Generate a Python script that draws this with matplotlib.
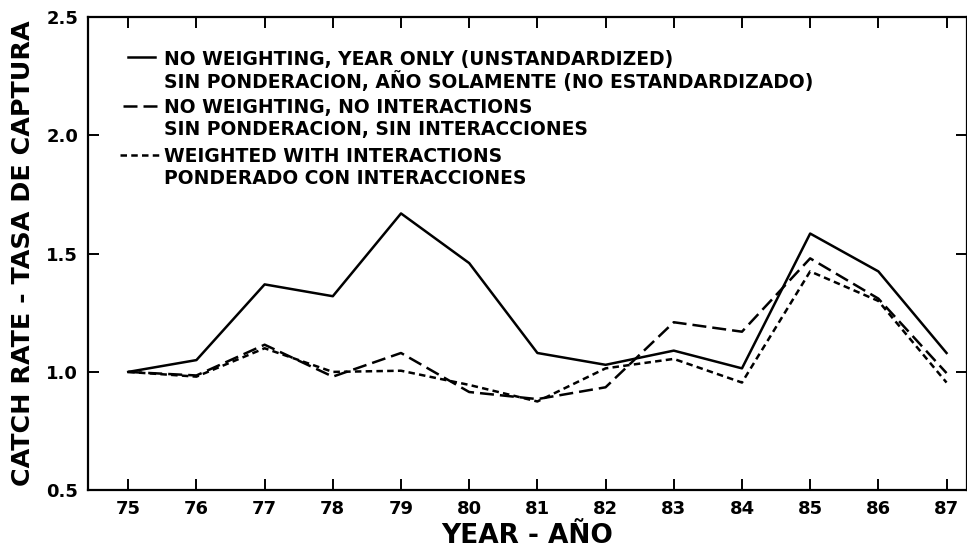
import matplotlib
matplotlib.use("Agg")
import matplotlib.pyplot as plt

# catch rate indices by year
years = [75, 76, 77, 78, 79, 80, 81, 82, 83, 84, 85, 86, 87]
unstandardized = [1.00, 1.05, 1.37, 1.32, 1.67, 1.46, 1.08, 1.03, 1.09, 1.015, 1.585, 1.425, 1.08]
no_interactions = [1.00, 0.985, 1.115, 0.98, 1.08, 0.915, 0.885, 0.935, 1.21, 1.17, 1.48, 1.31, 0.995]
weighted = [1.00, 0.98, 1.10, 1.00, 1.005, 0.945, 0.875, 1.015, 1.055, 0.955, 1.425, 1.30, 0.955]

labels = [
    ("NO WEIGHTING, YEAR ONLY (UNSTANDARDIZED)",
     "SIN PONDERACION, AÑO SOLAMENTE (NO ESTANDARDIZADO)"),
    ("NO WEIGHTING, NO INTERACTIONS",
     "SIN PONDERACION, SIN INTERACCIONES"),
    ("WEIGHTED WITH INTERACTIONS",
     "PONDERADO CON INTERACCIONES"),
]

plt.rcParams['font.family'] = ['DejaVu Sans']
plt.rcParams['font.weight'] = 'bold'

fig = plt.figure(figsize=(9.67, 5.52), dpi=100)
ax = fig.add_axes([0.091, 0.112, 0.909, 0.857])

lw = 1.8
styles = [dict(ls='-'), dict(dashes=(5.6, 2.4)), dict(dashes=(2.6, 1.7))]
series = [unstandardized, no_interactions, weighted]
for vals, st in zip(series, styles):
    ax.plot(years, vals, color='black', lw=lw, **st)

ax.set_xlim(74.41, 87.3)
ax.set_ylim(0.5, 2.5)
ax.set_xticks(years)
ax.set_xticklabels([str(y) for y in years])
ax.set_yticks([0.5, 1.0, 1.5, 2.0, 2.5])
ax.set_yticklabels(['0.5', '1.0', '1.5', '2.0', '2.5'])

ax.tick_params(direction='in', length=8, width=1.4, top=True, right=True,
               labelsize=13, pad=7)
for lab in ax.get_xticklabels() + ax.get_yticklabels():
    lab.set_fontweight('bold')
for sp in ax.spines.values():
    sp.set_linewidth(1.6)

ax.set_xlabel("YEAR - AÑO", fontsize=19, fontweight='bold', labelpad=4)
ax.set_ylabel("CATCH RATE - TASA DE CAPTURA", fontsize=18.3, fontweight='bold', labelpad=8)

# legend drawn by hand: sample line beside the first line of each two-line entry
leg_y = [0.915, 0.8125, 0.709]
leg_x = [(0.0455, 0.0762), (0.040, 0.084), (0.0364, 0.0853)]
for (l1, l2), y0, (xa, xb), st in zip(labels, leg_y, leg_x, styles):
    ax.plot([xa, xb], [y0, y0], transform=ax.transAxes, color='black', lw=lw, **st)
    ax.text(0.087, y0, l1, transform=ax.transAxes, fontsize=13.5, fontweight='bold',
            va='center_baseline', ha='left')
    ax.text(0.087, y0 - 0.046, l2, transform=ax.transAxes, fontsize=13.5, fontweight='bold',
            va='center_baseline', ha='left')

fig.savefig("out.png", dpi=100)
